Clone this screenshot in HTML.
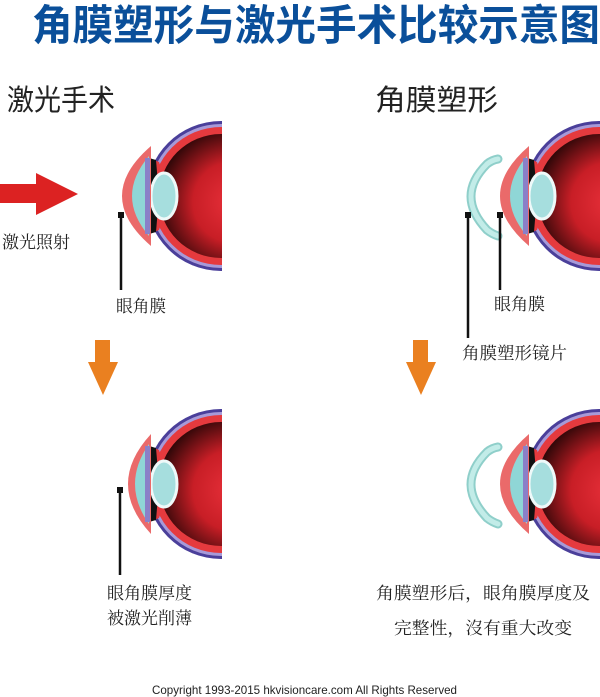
<!DOCTYPE html>
<html><head><meta charset="utf-8"><style>
body{margin:0;background:#fff}
svg{display:block}
.s{font-family:"Liberation Serif","Noto Serif CJK SC",serif;fill:#222}
.h{font-family:"Liberation Sans","Noto Sans CJK SC",sans-serif}
</style></head><body>
<svg width="600" height="697" viewBox="0 0 600 697" xmlns="http://www.w3.org/2000/svg">
<defs>
<radialGradient id="g" cx="0.6" cy="0.55" r="0.65">
<stop offset="0" stop-color="#e8303a"/><stop offset="0.5" stop-color="#c81e26"/><stop offset="1" stop-color="#1a0404"/>
</radialGradient>
<clipPath id="c"><rect x="-140" y="-90" width="141" height="180"/></clipPath>
<g id="globe">
<circle r="75" fill="#4a3f9a"/><circle r="72" fill="#a79ad8"/><circle r="69" fill="#e53a3e"/><circle r="62" fill="url(#g)"/>
<path d="M-76,-40 L-62,-34 L-58,-22 L-58,22 L-62,34 L-76,40 Z" fill="#e53a3e"/>
<path d="M-72,-38 L-65,-36 L-63,-12 L-70,-10 Z M-72,38 L-65,36 L-63,12 L-70,10 Z" fill="#111"/>
<ellipse cx="-57" cy="0" rx="13" ry="23" fill="#a6dede" stroke="#eef9f9" stroke-width="3"/>
</g>
<g id="eyeA">
<use href="#globe"/>
<path d="M-70,-50 Q-128,0 -70,50 Z" fill="#ea6a6a"/>
<path d="M-72,-40 Q-106,0 -72,40 Z" fill="#8fd6d6"/>
<path d="M-76,-38 L-71,-38 L-71,38 L-76,38 Z" fill="#8a80c8"/>
</g>
<g id="eyeB">
<use href="#globe"/>
<path d="M-70,-50 Q-116,0 -70,50 Z" fill="#ea6a6a"/>
<path d="M-72,-40 Q-100,0 -72,40 Z" fill="#8fd6d6"/>
<path d="M-76,-38 L-71,-38 L-71,38 L-76,38 Z" fill="#8a80c8"/>
</g>
<g id="lens">
<path d="M498,-37 Q492,-36 487,-32 Q455,0 487,34 Q492,38 498,40" fill="none" stroke="#8fcfca" stroke-width="9" stroke-linecap="round"/>
<path d="M498,-37 Q492,-36 487,-32 Q455,0 487,34 Q492,38 498,40" fill="none" stroke="#c2ece8" stroke-width="5" stroke-linecap="round"/>
</g>
</defs>
<text x="32" y="40" class="h" font-size="42" font-weight="bold" fill="#0a4f9a" textLength="568" lengthAdjust="spacingAndGlyphs">角膜塑形与激光手术比较示意图</text>
<text x="7" y="110" class="h" font-size="29" fill="#222" textLength="108" lengthAdjust="spacingAndGlyphs">激光手术</text>
<text x="375" y="110" class="h" font-size="29" fill="#222" textLength="123" lengthAdjust="spacingAndGlyphs">角膜塑形</text>

<g transform="translate(221,196)" clip-path="url(#c)"><use href="#eyeA"/></g>
<g transform="translate(221,484)" clip-path="url(#c)"><use href="#eyeB"/></g>
<g transform="translate(599,196)" clip-path="url(#c)"><use href="#eyeA"/></g>
<g transform="translate(599,484)" clip-path="url(#c)"><use href="#eyeA"/></g>
<use href="#lens" transform="translate(0,196)"/>
<use href="#lens" transform="translate(0,484)"/>

<path d="M0,184 H36 V173 L78,194 L36,215 V203 H0 Z" fill="#dc2222"/>
<path d="M95,340 H110 V362 H118 L103,395 L88,362 H95 Z" fill="#ea8020"/>
<path d="M413,340 H428 V362 H436 L421,395 L406,362 H413 Z" fill="#ea8020"/>

<g fill="#111" stroke="#111" stroke-width="2.5">
<rect x="118" y="212" width="6" height="6" stroke="none"/><line x1="121" y1="216" x2="121" y2="290"/>
<rect x="465" y="212" width="6" height="6" stroke="none"/><line x1="468" y1="216" x2="468" y2="338"/>
<rect x="497" y="212" width="6" height="6" stroke="none"/><line x1="500" y1="216" x2="500" y2="290"/>
<rect x="117" y="487" width="6" height="6" stroke="none"/><line x1="120" y1="490" x2="120" y2="575"/>
</g>

<text x="2" y="248" class="s" font-size="17" textLength="68" lengthAdjust="spacingAndGlyphs">激光照射</text>
<text x="116" y="312" class="s" font-size="17" textLength="50" lengthAdjust="spacingAndGlyphs">眼角膜</text>
<text x="494" y="310" class="s" font-size="17" textLength="51" lengthAdjust="spacingAndGlyphs">眼角膜</text>
<text x="462" y="359" class="s" font-size="17" textLength="105" lengthAdjust="spacingAndGlyphs">角膜塑形镜片</text>
<text x="107" y="599" class="s" font-size="17" textLength="85" lengthAdjust="spacingAndGlyphs">眼角膜厚度</text>
<text x="107" y="624" class="s" font-size="17" textLength="85" lengthAdjust="spacingAndGlyphs">被激光削薄</text>
<text x="376" y="599" class="s" font-size="17" textLength="214" lengthAdjust="spacingAndGlyphs">角膜塑形后，眼角膜厚度及</text>
<text x="394" y="634" class="s" font-size="17" textLength="178" lengthAdjust="spacingAndGlyphs">完整性，沒有重大改变</text>
<text x="152" y="694" class="h" font-size="12" fill="#222" textLength="305" lengthAdjust="spacingAndGlyphs">Copyright 1993-2015 hkvisioncare.com All Rights Reserved</text>
</svg>
</body></html>
